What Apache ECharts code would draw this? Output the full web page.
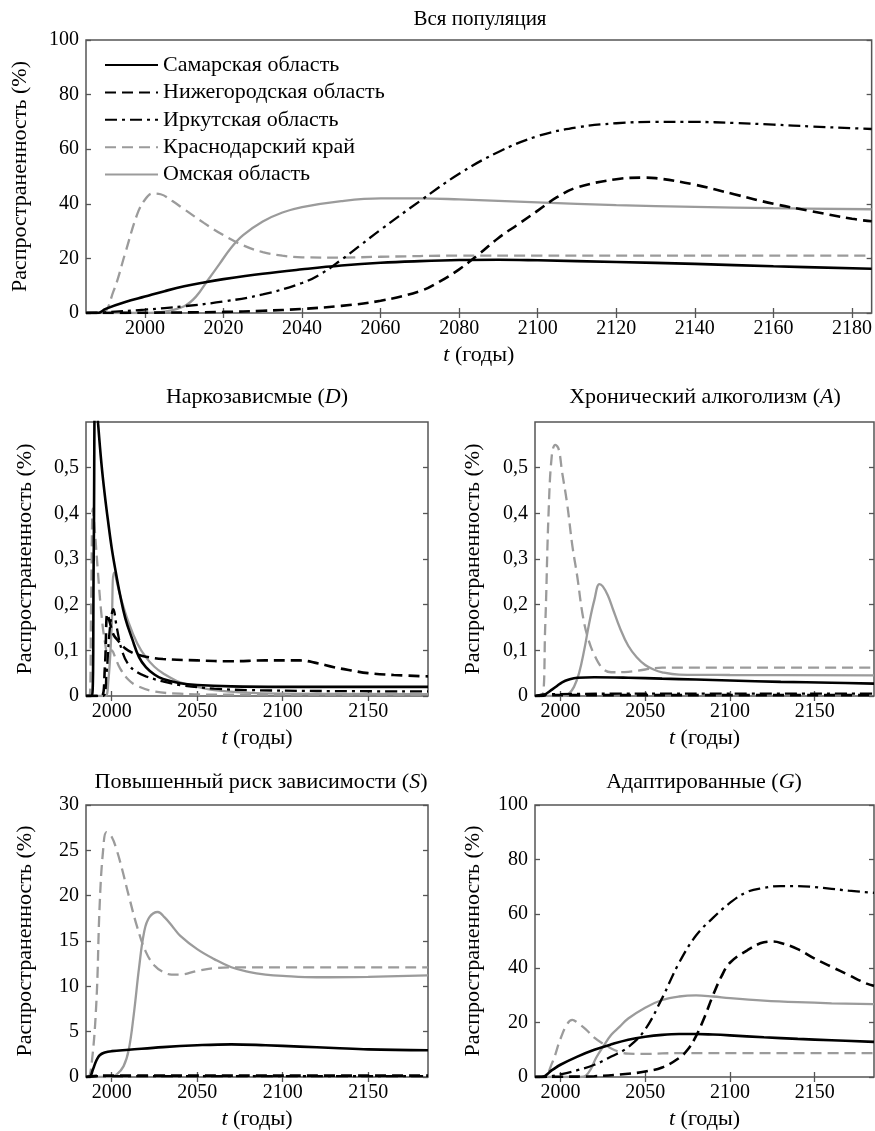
<!DOCTYPE html>
<html><head><meta charset="utf-8">
<script src="https://cdn.jsdelivr.net/npm/echarts@6/dist/echarts.min.js"></script>
<style>html,body{margin:0;padding:0;background:#fff}#c{width:875px;height:1131px}</style>
</head><body><div id="c"></div>
<script>
// ---------- names / labels ----------
const seriesNames = ['Самарская область','Нижегородская область','Иркутская область','Краснодарский край','Омская область'];
const panelTitles = ['Вся популяция','Наркозависмые ({i|D})','Хронический алкоголизм ({i|A})','Повышенный риск зависимости ({i|S})','Адаптированные ({i|G})'];
const yAxisName = 'Распространенность (%)';
const xAxisName = '{i|t} (годы)';
const xTicksTop = [2000,2020,2040,2060,2080,2100,2120,2140,2160,2180];
const xTicksSmall = [2000,2050,2100,2150];
const yTicksPct = [0,20,40,60,80,100];
const yTicksDA = [0,0.1,0.2,0.3,0.4,0.5];
const yTicksS = [0,5,10,15,20,25,30];

// ---------- Вся популяция ----------
const samaraAll = [[1985,0],[1988,0],[1990,1.5],[1995,4],[2000,6],[2005,8],[2010,9.8],[2015,11.2],[2020,12.4],[2030,14.4],[2040,16],[2050,17.4],[2060,18.4],[2070,19],[2080,19.4],[2090,19.5],[2100,19.3],[2120,18.7],[2140,18],[2160,17.1],[2185,16.2]];
const nizhAll = [[1985,0],[2000,0.1],[2020,0.4],[2030,0.8],[2040,1.5],[2050,2.6],[2060,4.5],[2070,8],[2075,11.5],[2080,16],[2085,21.5],[2090,27.5],[2095,32.5],[2100,37.5],[2105,42.5],[2110,46],[2120,49],[2127,49.6],[2130,49.4],[2140,47],[2150,43.5],[2160,40],[2170,37.2],[2180,34.5],[2185,33.6]];
const irkAll = [[1985,0],[1990,0.3],[2000,1.2],[2010,2.5],[2020,4.2],[2030,6.8],[2040,11],[2045,14.5],[2050,19.5],[2055,25],[2060,30.5],[2070,41],[2080,51],[2090,59],[2100,64.8],[2110,68],[2120,69.5],[2130,70],[2140,70],[2150,69.6],[2160,69],[2170,68.3],[2180,67.7],[2185,67.4]];
const krasAll = [[1985,0],[1989,0],[1992,8],[1995,22],[1998,36],[2000,41.5],[2002,43.8],[2004,43.5],[2007,41],[2010,38],[2015,33],[2020,28.5],[2025,24.8],[2030,22.3],[2035,21],[2040,20.4],[2050,20.3],[2060,20.6],[2080,21],[2100,21],[2140,21],[2185,21]];
const omskAll = [[1985,0],[2000,0],[2005,0.5],[2010,2.5],[2013,6],[2016,12],[2019,18],[2022,24],[2025,28.5],[2030,33.5],[2035,36.8],[2040,38.8],[2050,41],[2060,42],[2070,42],[2080,41.6],[2100,40.5],[2120,39.5],[2140,38.9],[2160,38.4],[2185,38]];

// ---------- Наркозависмые (D) ----------
const samaraD = [[1985,0],[1988.5,0],[1989.5,0.3],[1990.5,0.68],[1992,0.6],[1994,0.51],[1996,0.44],[1998,0.38],[2000,0.325],[2002,0.28],[2005,0.22],[2008,0.17],[2012,0.125],[2016,0.085],[2020,0.063],[2025,0.047],[2030,0.037],[2040,0.028],[2050,0.024],[2070,0.021],[2100,0.02],[2185,0.02]];
const nizhD = [[1985,0],[1994,0],[1996,0.06],[1997.5,0.18],[1999,0.16],[2001,0.135],[2004,0.12],[2008,0.104],[2012,0.095],[2016,0.09],[2020,0.086],[2030,0.081],[2050,0.078],[2070,0.076],[2090,0.078],[2110,0.078],[2120,0.072],[2130,0.063],[2140,0.056],[2150,0.05],[2165,0.046],[2185,0.043]];
const irkD = [[1985,0],[1995,0],[1997,0.05],[1999,0.15],[2001,0.19],[2003,0.15],[2006,0.1],[2010,0.068],[2015,0.052],[2020,0.043],[2030,0.032],[2040,0.024],[2060,0.016],[2080,0.013],[2120,0.011],[2185,0.01]];
const krasD = [[1985,0],[1987,0],[1988,0.2],[1989,0.41],[1990,0.37],[1992,0.27],[1994,0.18],[1996,0.12],[1998,0.09],[2000,0.1],[2002,0.085],[2005,0.06],[2010,0.035],[2015,0.022],[2025,0.01],[2040,0.005],[2060,0.003],[2185,0.003]];
const omskD = [[1985,0],[1996,0],[1998,0.03],[2000,0.15],[2001.5,0.27],[2005,0.22],[2010,0.16],[2015,0.115],[2020,0.085],[2025,0.064],[2030,0.05],[2040,0.03],[2050,0.02],[2060,0.013],[2075,0.008],[2100,0.005],[2185,0.004]];

// ---------- Хронический алкоголизм (A) ----------
const samaraA = [[1985,0],[1989,0],[1992,0.006],[1995,0.014],[1998,0.022],[2001,0.03],[2005,0.036],[2010,0.04],[2020,0.041],[2040,0.04],[2060,0.038],[2080,0.036],[2100,0.034],[2130,0.031],[2160,0.029],[2185,0.027]];
const nizhA = [[1985,0],[1992,0.002],[2050,0.002],[2100,0.002],[2185,0.002]];
const irkA = [[1985,0],[1993,0.004],[2050,0.005],[2100,0.005],[2185,0.005]];
const krasA = [[1985,0],[1989,0],[1991,0.15],[1993,0.4],[1995,0.53],[1997,0.55],[1999,0.54],[2001,0.49],[2004,0.42],[2007,0.33],[2010,0.26],[2013,0.18],[2016,0.13],[2020,0.09],[2025,0.06],[2030,0.052],[2040,0.053],[2050,0.058],[2060,0.062],[2185,0.062]];
const omskA = [[1985,0],[2002,0],[2005,0.005],[2008,0.02],[2011,0.05],[2014,0.1],[2017,0.16],[2020,0.21],[2023,0.245],[2025,0.24],[2028,0.22],[2031,0.19],[2035,0.15],[2040,0.11],[2045,0.085],[2050,0.068],[2055,0.058],[2060,0.052],[2070,0.047],[2100,0.046],[2185,0.045]];

// ---------- Повышенный риск зависимости (S) ----------
const samaraS = [[1985,0],[1987,0],[1989,0.8],[1991,1.8],[1993,2.4],[1996,2.7],[2000,2.85],[2010,3.0],[2030,3.3],[2050,3.5],[2070,3.6],[2090,3.5],[2110,3.35],[2130,3.2],[2150,3.05],[2185,2.95]];
const nizhS = [[1985,0],[1995,0.15],[2100,0.15],[2185,0.15]];
const irkS = [[1985,0],[1995,0.1],[2100,0.1],[2185,0.1]];
const krasS = [[1985,0],[1986,0],[1988,1],[1991,8],[1993,19],[1995,25],[1997,27],[2000,26.5],[2003,25],[2006,23],[2010,20],[2015,16.5],[2020,13.8],[2025,12.3],[2030,11.6],[2035,11.3],[2040,11.3],[2050,11.7],[2060,12],[2070,12.1],[2185,12.1]];
const omskS = [[1985,0],[1999,0],[2003,0.3],[2007,1.2],[2010,3],[2013,7],[2016,12],[2019,16],[2022,17.6],[2027,18.2],[2031,17.6],[2036,16.5],[2040,15.6],[2050,14.1],[2060,13],[2070,12.1],[2080,11.6],[2090,11.3],[2100,11.15],[2120,11],[2150,11.05],[2185,11.2]];

// ---------- Адаптированные (G) ----------
const samaraG = [[1985,0],[1989,0],[1995,2.5],[2000,4.5],[2010,7.5],[2020,10],[2030,12],[2040,13.7],[2050,14.8],[2060,15.5],[2070,15.8],[2080,15.8],[2090,15.6],[2100,15.3],[2120,14.6],[2140,14],[2160,13.5],[2185,12.9]];
const nizhG = [[1985,0],[2000,0.1],[2020,0.3],[2040,1.2],[2050,2],[2060,3.5],[2070,7],[2075,10],[2080,15],[2085,22],[2090,30],[2095,37],[2100,42],[2110,46.5],[2120,49.5],[2125,49.8],[2130,49.3],[2140,47],[2150,43.5],[2160,40.5],[2170,37.5],[2180,34.5],[2185,33.5]];
const irkG = [[1985,0],[1990,0],[2000,1],[2010,2.5],[2020,4.5],[2030,7.5],[2040,11],[2050,17.5],[2060,29],[2070,42],[2080,52],[2090,58.5],[2100,64],[2110,68],[2120,69.5],[2130,70.2],[2140,70.2],[2150,69.8],[2160,69.2],[2170,68.5],[2185,67.7]];
const krasG = [[1985,0],[1990,0],[1995,5],[2000,14],[2004,19.5],[2007,21],[2010,20],[2015,17.5],[2020,14.5],[2025,12.3],[2030,10.5],[2035,9.2],[2040,8.6],[2050,8.5],[2070,8.8],[2185,8.8]];
const omskG = [[1985,0],[2012,0],[2015,0.5],[2018,3],[2021,7],[2025,11],[2030,15.5],[2035,18.5],[2040,21.5],[2050,25.5],[2060,28.3],[2070,29.6],[2080,30],[2090,29.6],[2100,29],[2120,28.1],[2140,27.5],[2160,27.1],[2185,26.8]];

// ---------- build ----------
const FONT = 'Liberation Serif';
const FRAME = '#555';
const TXT = 22;   // titles, names, legend
const TICK = 20;  // tick labels
const panels = [
  {title: panelTitles[0], data:[samaraAll,nizhAll,irkAll,krasAll,omskAll], grid:{left:86,top:40,width:788,height:273}, ymax:100, yint:20, yTicks:yTicksPct, xTicks:xTicksTop, titleX:480, titleTop:9, titleSize:21, nameGap:55},
  {title: panelTitles[1], data:[samaraD,nizhD,irkD,krasD,omskD], grid:{left:86,top:422,width:342,height:274}, ymax:0.6, yint:0.1, yTicks:yTicksDA, xTicks:xTicksSmall, titleX:257, titleTop:386, titleSize:TXT, nameGap:50},
  {title: panelTitles[2], data:[samaraA,nizhA,irkA,krasA,omskA], grid:{left:535,top:422,width:339,height:274}, ymax:0.6, yint:0.1, yTicks:yTicksDA, xTicks:xTicksSmall, titleX:705, titleTop:386, titleSize:TXT, nameGap:51},
  {title: panelTitles[3], data:[samaraS,nizhS,irkS,krasS,omskS], grid:{left:86,top:805,width:342,height:273}, ymax:30, yint:5, yTicks:yTicksS, xTicks:xTicksSmall, titleX:261, titleTop:771, titleSize:TXT, nameGap:50},
  {title: panelTitles[4], data:[samaraG,nizhG,irkG,krasG,omskG], grid:{left:535,top:805,width:339,height:273}, ymax:100, yint:20, yTicks:yTicksPct, xTicks:xTicksSmall, titleX:704, titleTop:771, titleSize:TXT, nameGap:51}
];
const styles = [
  {color:'#000', type:'solid', width:2.6},
  {color:'#000', type:[11,6], width:2.6},
  {color:'#000', type:[12,5,3,5], width:2.3},
  {color:'#9b9b9b', type:[11,6], width:2.3},
  {color:'#9b9b9b', type:'solid', width:2.3}
];
const fmtY = v => v === 0 ? '0' : (Number.isInteger(v) ? String(v) : v.toFixed(1).replace('.', ','));
const fmtX = v => String(v);
const richOf = s => ({i:{fontStyle:'italic', fontFamily:FONT, fontSize:s, color:'#000'}});
const tickStyle = {show:true, inside:true, length:5, lineStyle:{color:FRAME, width:1.3}};

const grid=[], xAxis=[], yAxis=[], series=[], title=[];
panels.forEach((p, gi) => {
  grid.push(Object.assign({show:true, borderColor:FRAME, borderWidth:1.5, backgroundColor:'#fff', containLabel:false}, p.grid));
  title.push({text:p.title, left:p.titleX, top:p.titleTop, textAlign:'center', padding:0,
    textStyle:{fontFamily:FONT, fontSize:p.titleSize, fontWeight:'normal', color:'#000', rich:richOf(p.titleSize)}});
  xAxis.push({type:'value', gridIndex:gi, min:1985, max:2185, position:'bottom',
    axisLine:{show:false}, splitLine:{show:false},
    axisTick:Object.assign({customValues:p.xTicks}, tickStyle),
    axisLabel:{customValues:p.xTicks, formatter:fmtX, margin:6, fontFamily:FONT, fontSize:TICK, color:'#000'},
    name:xAxisName, nameLocation:'middle', nameGap:31,
    nameTextStyle:{fontFamily:FONT, fontSize:TXT, color:'#000', rich:richOf(TXT)}});
  xAxis.push({type:'value', gridIndex:gi, min:1985, max:2185, position:'top',
    axisLine:{show:false}, splitLine:{show:false},
    axisTick:Object.assign({customValues:p.xTicks}, tickStyle), axisLabel:{show:false}});
  yAxis.push({type:'value', gridIndex:gi, min:0, max:p.ymax, interval:p.yint, position:'left',
    axisLine:{show:false}, splitLine:{show:false},
    axisTick:Object.assign({customValues:p.yTicks}, tickStyle),
    axisLabel:{customValues:p.yTicks, formatter:fmtY, margin:7, fontFamily:FONT, fontSize:TICK, color:'#000'},
    name:yAxisName, nameLocation:'middle', nameRotate:90, nameGap:p.nameGap,
    nameTextStyle:{fontFamily:FONT, fontSize:TXT, color:'#000'}});
  yAxis.push({type:'value', gridIndex:gi, min:0, max:p.ymax, interval:p.yint, position:'right',
    axisLine:{show:false}, splitLine:{show:false},
    axisTick:Object.assign({customValues:p.yTicks}, tickStyle), axisLabel:{show:false}});
  p.data.forEach((d, si) => {
    series.push({type:'line', name:seriesNames[si], data:d, xAxisIndex:2*gi, yAxisIndex:2*gi,
      symbol:'none', smooth:0.4, clip:true,
      lineStyle:{color:styles[si].color, type:styles[si].type, width:styles[si].width},
      itemStyle:{color:styles[si].color}, z:5-si});
  });
});

const chart = echarts.init(document.getElementById('c'), null, {renderer:'canvas'});
chart.setOption({
  animation:false, backgroundColor:'#fff',
  title, grid, xAxis, yAxis, series,
  legend:{show:true, data:seriesNames, orient:'vertical', left:104, top:54, padding:0,
    itemWidth:53, itemHeight:12, itemGap:5.4,
    itemStyle:{opacity:0, borderWidth:0},
    textStyle:{fontFamily:FONT, fontSize:TXT, color:'#000', lineHeight:22}}
});
</script></body></html>
